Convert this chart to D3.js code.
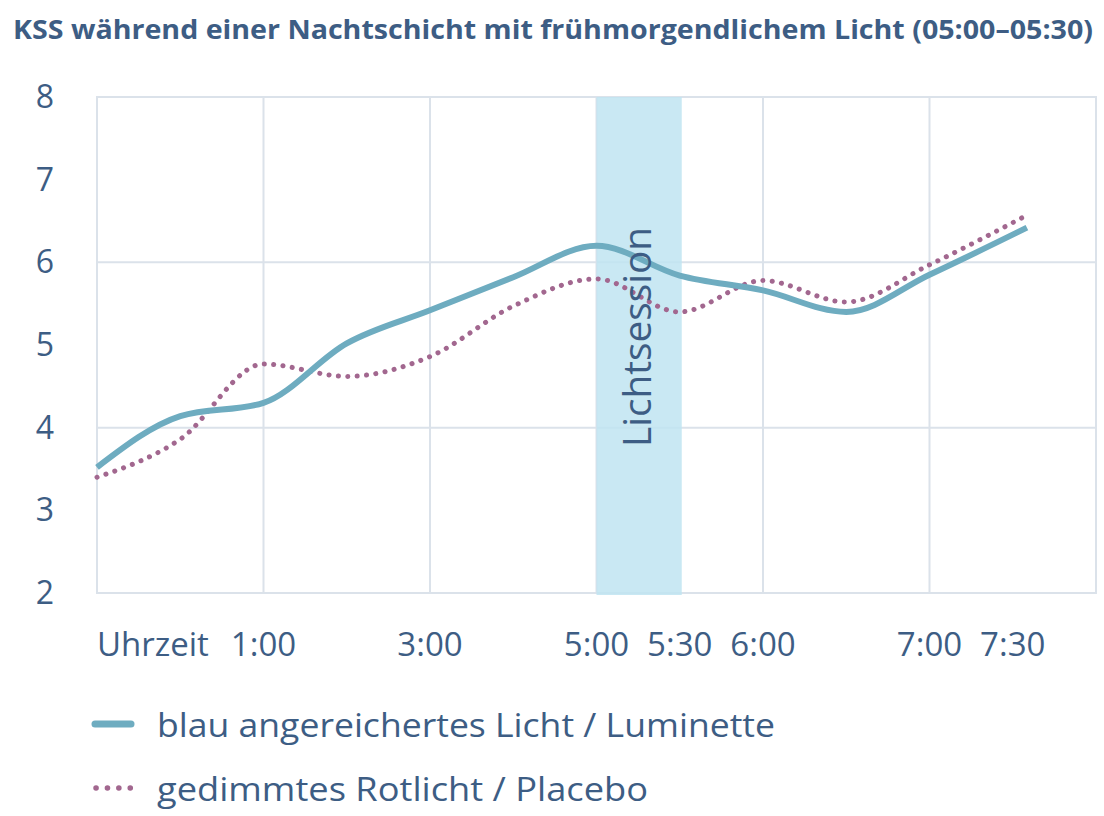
<!DOCTYPE html>
<html>
<head>
<meta charset="utf-8">
<script src="https://cdn.jsdelivr.net/npm/d3@7"></script>
<style>
  body { margin: 0; background: #fff; }
  svg text { font-family: "Open Sans", sans-serif; fill: #3d5d84; }
</style>
</head>
<body>
<div id="chart"><svg width="1104" height="816"></svg></div>
<script>
const svg = d3.select("#chart svg");

// daten
const titleText = "KSS während einer Nachtschicht mit frühmorgendlichem Licht (05:00–05:30)";
const xTickLabels = ["Uhrzeit", "1:00", "3:00", "5:00", "5:30", "6:00", "7:00", "7:30"];
const xTickSteps = [0, 2, 4, 6, 7, 8, 10, 11];
const pointSteps = [0, 1, 2, 3, 4, 5, 6, 7, 8, 9, 10, 11.17];
const blueValues = [3.52, 4.14, 4.3, 5.02, 5.42, 5.82, 6.2, 5.84, 5.66, 5.4, 5.85, 6.42];
const redValues = [3.4, 3.86, 4.77, 4.62, 4.86, 5.47, 5.8, 5.4, 5.78, 5.52, 5.97, 6.57];
const yTicks = [2, 3, 4, 5, 6, 7, 8];
const yGrid = [4, 6];
const xGrid = [2, 4, 6, 8, 10];
const sessionSpan = [6, 7];
const legendLabels = ["blau angereichertes Licht / Luminette", "gedimmtes Rotlicht / Placebo"];
const legendWidths = [618, 491];

const blue = "#6eacc0";
const red = "#a2678f";
const gridColor = "#dbe2ea";

const x = d3.scaleLinear().domain([0, 12]).range([97, 1096]);
const y = d3.scaleLinear().domain([2, 8]).range([593, 97]);

// titel
svg.append("text")
    .attr("x", 13)
    .attr("y", 39)
    .attr("font-size", "27px")
    .attr("font-weight", "bold")
    .attr("textLength", 1080)
    .attr("lengthAdjust", "spacingAndGlyphs")
    .text(titleText);

// gitter
svg.append("rect")
    .attr("x", x(0))
    .attr("y", y(8))
    .attr("width", x(12) - x(0))
    .attr("height", y(2) - y(8))
    .attr("fill", "none")
    .attr("stroke", gridColor)
    .attr("stroke-width", 2);

svg.selectAll(".vgrid")
    .data(xGrid)
    .join("line")
    .attr("x1", d => x(d))
    .attr("x2", d => x(d))
    .attr("y1", y(8))
    .attr("y2", y(2))
    .attr("stroke", gridColor)
    .attr("stroke-width", 2);

svg.selectAll(".hgrid")
    .data(yGrid)
    .join("line")
    .attr("x1", x(0))
    .attr("x2", x(12))
    .attr("y1", d => y(d))
    .attr("y2", d => y(d))
    .attr("stroke", gridColor)
    .attr("stroke-width", 2);

// lichtsession
svg.append("rect")
    .attr("x", x(sessionSpan[0]))
    .attr("y", y(8))
    .attr("width", x(sessionSpan[1]) - x(sessionSpan[0]) + 2)
    .attr("height", y(2) - y(8) + 2)
    .attr("fill", "#bfe4f1")
    .attr("opacity", 0.85);

// y-achse
svg.selectAll(".ylabel")
    .data(yTicks)
    .join("text")
    .attr("x", 45)
    .attr("y", d => y(d) + 11)
    .attr("text-anchor", "middle")
    .attr("font-size", "32px")
    .text(d => d);

// x-achse
svg.selectAll(".xlabel")
    .data(xTickLabels)
    .join("text")
    .attr("x", (d, i) => i === 0 ? x(0) : x(xTickSteps[i]))
    .attr("y", 656)
    .attr("text-anchor", (d, i) => i === 0 ? "start" : "middle")
    .attr("font-size", "33px")
    .text(d => d);

// linien
const line = d3.line()
    .x((d, i) => x(pointSteps[i]))
    .y(d => y(d))
    .curve(d3.curveMonotoneX);

svg.append("path")
    .attr("d", line(redValues))
    .attr("fill", "none")
    .attr("stroke", red)
    .attr("stroke-width", 5)
    .attr("stroke-linecap", "round")
    .attr("stroke-dasharray", "0.1 9.3");

svg.append("path")
    .attr("d", line(blueValues))
    .attr("fill", "none")
    .attr("stroke", blue)
    .attr("stroke-width", 6);

// text in der lichtsession
const cx = (x(sessionSpan[0]) + x(sessionSpan[1])) / 2;
svg.append("text")
    .attr("transform", `translate(${cx + 13}, 337) rotate(-90)`)
    .attr("text-anchor", "middle")
    .attr("font-size", "38px")
    .attr("textLength", 220)
    .attr("lengthAdjust", "spacingAndGlyphs")
    .text("Lichtsession");

// legende
svg.append("line")
    .attr("x1", 95).attr("x2", 131)
    .attr("y1", 724).attr("y2", 724)
    .attr("stroke", blue)
    .attr("stroke-width", 7)
    .attr("stroke-linecap", "round");

svg.append("line")
    .attr("x1", 96).attr("x2", 132)
    .attr("y1", 788).attr("y2", 788)
    .attr("stroke", red)
    .attr("stroke-width", 5.5)
    .attr("stroke-linecap", "round")
    .attr("stroke-dasharray", "0.1 11.3");

svg.selectAll(".legend")
    .data(legendLabels)
    .join("text")
    .attr("x", 157)
    .attr("y", (d, i) => 737 + i * 64)
    .attr("font-size", "33px")
    .attr("textLength", (d, i) => legendWidths[i])
    .attr("lengthAdjust", "spacingAndGlyphs")
    .text(d => d);
</script>
</body>
</html>
